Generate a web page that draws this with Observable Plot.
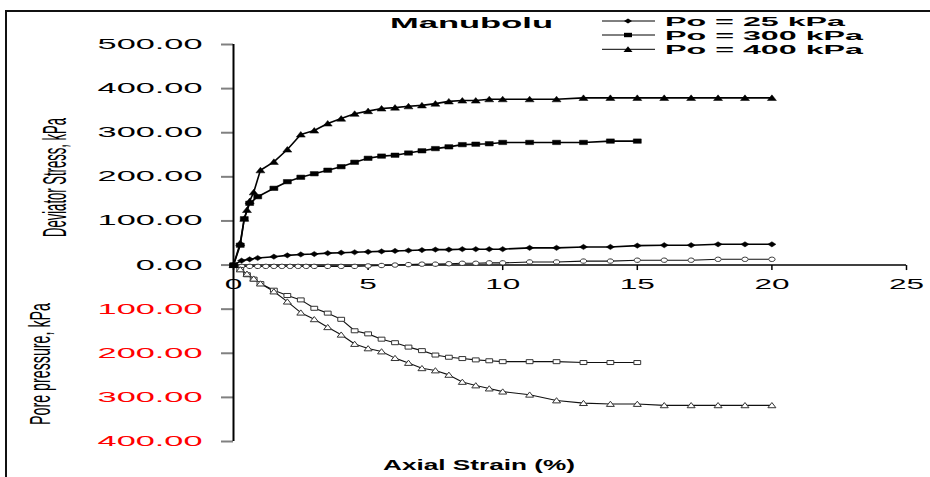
<!DOCTYPE html>
<html><head><meta charset="utf-8">
<script src="https://cdn.jsdelivr.net/npm/d3@7"></script>
<script src="https://cdn.jsdelivr.net/npm/@observablehq/plot@0.6"></script>
<style>body{margin:0;background:#fff;} svg{display:block;}</style>
</head><body><div id="chart"></div>
<script>
// ---- data ----
const yTicks = [-400, -300, -200, -100, 0, 100, 200, 300, 400, 500];
const xTicks = [0, 5, 10, 15, 20, 25];
const seriesNames = ["Po = 25 kPa", "Po = 300 kPa", "Po = 400 kPa"];
const chartTitle = "Manubolu";
const xTitle = "Axial Strain (%)";
const yTitleTop = "Deviator Stress, kPa";
const yTitleBottom = "Pore pressure, kPa";

const dev25Strain = [0,0.3,0.6,0.9,1.5,2,2.5,3,3.5,4,4.5,5,5.5,6,6.5,7,7.5,8,8.5,9,9.5,10,11,12,13,14,15,16,17,18,19,20];
const dev25Stress = [0,10,13,16,19,22,24,25,27,28,29,30,31,32,33,34,35,35,36,36,36,36,39,39,41,41,44,45,45,47,47,47];

const dev300Strain = [0,0.25,0.4,0.6,0.9,1.5,2,2.5,3,3.5,4,4.5,5,5.5,6,6.5,7,7.5,8,8.5,9,9.5,10,11,12,13,14,15];
const dev300Stress = [0,45,105,140,155,174,189,199,207,215,223,233,242,247,249,254,259,264,268,273,274,275,278,278,278,278,281,281];

const dev400Strain = [0,0.25,0.4,0.5,0.6,0.75,1,1.5,2,2.5,3,3.5,4,4.5,5,5.5,6,6.5,7,7.5,8,8.5,9,9.5,10,11,12,13,14,15,16,17,18,19,20];
const dev400Stress = [0,50,105,125,145,165,215,234,262,296,305,321,332,343,349,355,357,360,362,366,371,373,373,376,376,376,376,379,379,379,379,379,379,379,379];

const pore25Strain = [0,0.3,0.6,0.9,1.2,1.5,1.8,2.1,2.4,2.7,3,3.5,4,4.5,5,5.5,6,6.5,7,7.5,8,8.5,9,9.5,10,11,12,13,14,15,16,17,18,19,20];
const pore25U = [0,3,3,3,3,3,3,3,3,3,3,3,3,3,2,1,0,-1,-2,-2,-3,-4,-4,-5,-5,-7,-7,-9,-9,-11,-11,-11,-13,-13,-13];

const pore300Strain = [0,0.25,0.5,0.75,1,1.5,2,2.5,3,3.5,4,4.5,5,5.5,6,6.5,7,7.5,8,8.5,9,9.5,10,11,12,13,14,15];
const pore300U = [0,10,22,32,42,57,69,79,98,109,123,149,156,168,176,186,194,204,209,212,215,217,219,219,219,221,221,221];

const pore400Strain = [0,0.25,0.5,0.75,1,1.5,2,2.5,3,3.5,4,4.5,5,5.5,6,6.5,7,7.5,8,8.5,9,9.5,10,11,12,13,14,15,16,17,18,19,20];
const pore400U = [0,10,20,31,42,60,83,108,123,141,158,179,189,196,211,222,234,239,249,265,273,280,287,294,307,313,315,315,318,318,318,318,318];

// ---- marker shapes (stretched like the original) ----
const sym = fn => ({draw(c) { fn(c); }});
const diamond = sym(c => { c.moveTo(-4, 0); c.lineTo(0, -2.6); c.lineTo(4, 0); c.lineTo(0, 2.6); c.closePath(); });
const rect = sym(c => { c.moveTo(-4, -2.2); c.lineTo(4, -2.2); c.lineTo(4, 2.2); c.lineTo(-4, 2.2); c.closePath(); });
const tri = sym(c => { c.moveTo(-4.5, 2.6); c.lineTo(0, -3); c.lineTo(4.5, 2.6); c.closePath(); });
const oval = sym(c => { const n = 14; for (let i = 0; i < n; i++) { const a = 2 * Math.PI * i / n; const px = 3.2 * Math.cos(a), py = 2.2 * Math.sin(a); i ? c.lineTo(px, py) : c.moveTo(px, py); } c.closePath(); });
const orect = sym(c => { c.moveTo(-3.4, -2); c.lineTo(3.4, -2); c.lineTo(3.4, 2); c.lineTo(-3.4, 2); c.closePath(); });
const otri = sym(c => { c.moveTo(-4, 2.4); c.lineTo(0, -2.8); c.lineTo(4, 2.4); c.closePath(); });
const tickSym = sym(c => { c.moveTo(0, 0); c.lineTo(0, 5); });

const rows = (xs, ys, f = v => v) => xs.map((x, i) => ({x, y: f(ys[i])}));
const dev = [
  {d: rows(dev25Strain, dev25Stress), s: diamond},
  {d: rows(dev300Strain, dev300Stress), s: rect},
  {d: rows(dev400Strain, dev400Stress), s: tri}
];
const pore = [
  {d: rows(pore25Strain, pore25U, v => -v), s: oval},
  {d: rows(pore300Strain, pore300U, v => -v), s: orect},
  {d: rows(pore400Strain, pore400U, v => -v), s: otri}
];

const marks = [
  Plot.ruleY([0], {stroke: "#000", strokeWidth: 1.5}),
  Plot.dot(xTicks, {x: d => d, y: 0, symbol: tickSym, stroke: "#000", strokeWidth: 1.5, fill: "none", r: 3}),
  Plot.text(xTicks, {x: d => d, y: 0, text: d => String(d), dy: 19, fontSize: 15, fill: "#000"}),
  Plot.axisY({ticks: yTicks.filter(d => d >= 0), tickSize: 12, tickPadding: 19, stroke: "#808080", strokeWidth: 2, fill: "#000", fontSize: 14, tickFormat: d => Math.abs(d).toFixed(2), label: null}),
  Plot.axisY({ticks: yTicks.filter(d => d < 0), tickSize: 12, tickPadding: 19, stroke: "#808080", strokeWidth: 2, fill: "#ff0000", fontSize: 14, tickFormat: d => Math.abs(d).toFixed(2), label: null}),
  Plot.ruleX([0], {stroke: "#000", strokeWidth: 2})
];
for (const p of pore) {
  marks.push(Plot.line(p.d, {x: "x", y: "y", stroke: "#111", strokeWidth: 1.1}));
}
for (const p of dev) {
  marks.push(Plot.line(p.d, {x: "x", y: "y", stroke: "#000", strokeWidth: 1.6}));
}
for (const p of pore) {
  marks.push(Plot.dot(p.d, {x: "x", y: "y", symbol: p.s, r: 3, fill: "#fff", stroke: "#333", strokeWidth: 1}));
}
for (const p of dev) {
  marks.push(Plot.dot(p.d, {x: "x", y: "y", symbol: p.s, r: 3, fill: "#000", stroke: "#000", strokeWidth: 0.5}));
}

const chart = Plot.plot({
  width: 930, height: 477,
  marginLeft: 233, marginRight: 24, marginTop: 44, marginBottom: 36,
  style: {fontFamily: "'Liberation Sans', Arial, sans-serif", background: "#fff", overflow: "visible"},
  x: {domain: [0, 25], axis: null},
  y: {domain: [-400, 500], axis: null},
  marks
});
document.getElementById("chart").append(chart);

const svg = d3.select(chart);
// stretch tick labels horizontally (as in the original picture)
svg.selectAll("text").each(function() {
  const inY = this.closest('g[aria-label="y-axis tick label"]');
  const k = inY ? 2.45 : 2.1;
  const L = this.getComputedTextLength();
  this.setAttribute("textLength", L * k);
  this.setAttribute("lengthAdjust", "spacingAndGlyphs");
});

const ff = "'Liberation Sans', Arial, sans-serif";
// frame
svg.append("line").attr("x1", 5).attr("x2", 930).attr("y1", 11).attr("y2", 11).attr("stroke", "#111").attr("stroke-width", 2);
svg.append("line").attr("x1", 6).attr("x2", 6).attr("y1", 11).attr("y2", 477).attr("stroke", "#111").attr("stroke-width", 2);

// title
svg.append("text").attr("x", 390).attr("y", 28).attr("text-anchor", "start").attr("font-family", ff).attr("font-weight", "bold").attr("font-size", 14)
  .attr("textLength", 163).attr("lengthAdjust", "spacingAndGlyphs").text(chartTitle);

// legend
const legendSyms = [diamond, rect, tri];
const legY = [21, 35, 49.3];
const legW = [180, 198, 198];
seriesNames.forEach((name, i) => {
  svg.append("line").attr("x1", 602).attr("x2", 655).attr("y1", legY[i]).attr("y2", legY[i]).attr("stroke", "#000").attr("stroke-width", 1);
  svg.append("path").attr("transform", `translate(628,${legY[i]})`).attr("d", d3.symbol(legendSyms[i], 30)()).attr("fill", "#000");
  svg.append("text").attr("x", 665).attr("y", legY[i] + 4.8).attr("text-anchor", "start").attr("font-family", ff).attr("font-weight", "bold").attr("font-size", 13.4)
    .attr("textLength", legW[i]).attr("lengthAdjust", "spacingAndGlyphs").text(name);
});

// x title
svg.append("text").attr("x", 479).attr("y", 470).attr("text-anchor", "middle").attr("font-family", ff).attr("font-weight", "bold").attr("font-size", 15.5)
  .attr("textLength", 192).attr("lengthAdjust", "spacingAndGlyphs").text(xTitle);

// y titles (rotated, stretched)
svg.append("text").attr("transform", "translate(66,177.5) rotate(-90) scale(1,2.6)").attr("text-anchor", "middle")
  .attr("font-family", ff).attr("font-size", 13).attr("textLength", 119).attr("lengthAdjust", "spacingAndGlyphs").text(yTitleTop);
svg.append("text").attr("transform", "translate(50,364) rotate(-90) scale(1,2.1)").attr("text-anchor", "middle")
  .attr("font-family", ff).attr("font-size", 14).attr("textLength", 122).attr("lengthAdjust", "spacingAndGlyphs").text(yTitleBottom);
</script>
</body></html>
